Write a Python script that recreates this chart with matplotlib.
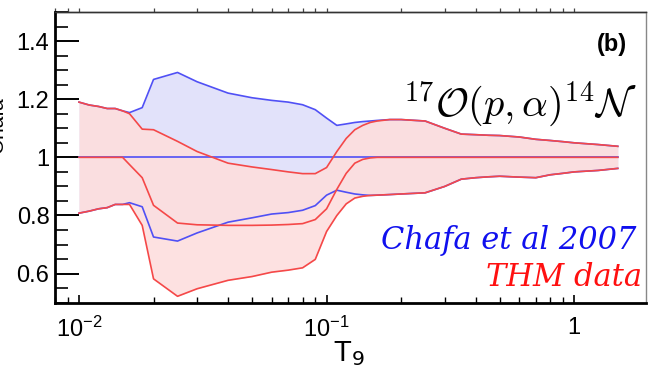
import numpy as np
import matplotlib
matplotlib.use('Agg')
import matplotlib.pyplot as plt
from matplotlib.ticker import FixedLocator, FixedFormatter, MultipleLocator, LogLocator, NullFormatter

plt.rcParams['font.family'] = ['Liberation Sans', 'DejaVu Sans']

# temperature grid (T9)
t9 = [0.01, 0.011, 0.012, 0.013, 0.014, 0.015, 0.016, 0.018, 0.02, 0.025,
      0.03, 0.04, 0.05, 0.06, 0.07, 0.08, 0.09, 0.1, 0.11, 0.12,
      0.13, 0.14, 0.15, 0.16, 0.18, 0.2, 0.25, 0.3, 0.35, 0.4,
      0.45, 0.5, 0.6, 0.7, 0.8, 0.9, 1.0, 1.25, 1.5]

# THM data band (red)
thm_hi = [1.19, 1.18, 1.175, 1.168, 1.168, 1.16, 1.15, 1.097, 1.095, 1.055,
          1.02, 0.98, 0.967, 0.958, 0.95, 0.944, 0.944, 0.965, 1.02, 1.065,
          1.095, 1.11, 1.12, 1.125, 1.13, 1.13, 1.125, 1.10, 1.08, 1.078,
          1.076, 1.075, 1.07, 1.062, 1.058, 1.054, 1.05, 1.044, 1.038]
thm_mid = [1.0, 1.0, 1.0, 1.0, 1.0, 1.0, 0.975, 0.93, 0.835, 0.774,
           0.768, 0.766, 0.766, 0.767, 0.769, 0.772, 0.786, 0.823, 0.89, 0.945,
           0.98, 0.993, 0.998, 1.0, 1.0, 1.0, 1.0, 1.0, 1.0, 1.0,
           1.0, 1.0, 1.0, 1.0, 1.0, 1.0, 1.0, 1.0, 1.0]
thm_lo = [0.808, 0.815, 0.823, 0.827, 0.838, 0.838, 0.838, 0.766, 0.582, 0.522,
          0.548, 0.577, 0.59, 0.605, 0.612, 0.62, 0.649, 0.745, 0.80, 0.84,
          0.86, 0.866, 0.869, 0.87, 0.872, 0.874, 0.878, 0.90, 0.925, 0.93,
          0.933, 0.935, 0.932, 0.93, 0.94, 0.945, 0.95, 0.955, 0.962]

# Chafa et al 2007 band (blue)
chafa_hi = [1.19, 1.18, 1.175, 1.168, 1.168, 1.16, 1.154, 1.171, 1.268, 1.292,
            1.26, 1.221, 1.205, 1.196, 1.19, 1.181, 1.164, 1.135, 1.11, 1.115,
            1.12, 1.123, 1.125, 1.127, 1.13, 1.13, 1.125, 1.10, 1.08, 1.078,
            1.076, 1.075, 1.07, 1.062, 1.058, 1.054, 1.05, 1.044, 1.038]
chafa_mid = [1.0] * len(t9)
chafa_lo = [0.808, 0.815, 0.823, 0.827, 0.838, 0.838, 0.844, 0.83, 0.726, 0.712,
            0.74, 0.777, 0.792, 0.805, 0.81, 0.818, 0.834, 0.87, 0.887, 0.88,
            0.874, 0.871, 0.869, 0.87, 0.872, 0.874, 0.878, 0.90, 0.925, 0.93,
            0.933, 0.935, 0.932, 0.93, 0.94, 0.945, 0.95, 0.955, 0.962]

blue = '#5050f5'
red = '#f54848'

fig = plt.figure(figsize=(6.52, 3.76), dpi=100)
ax = fig.add_axes([55/652, 1 - 302.7/376, (646 - 55)/652, (302.7 - 12)/376])

ax.fill_between(t9, chafa_lo, chafa_hi, color='#e2e2fa', lw=0)
ax.fill_between(t9, thm_lo, thm_hi, color='#fddede', alpha=0.9, lw=0)
for y in (chafa_hi, chafa_mid, chafa_lo):
    ax.plot(t9, y, color=blue, lw=1.2)
for y in (thm_hi, thm_mid, thm_lo):
    ax.plot(t9, y, color=red, lw=1.2)

ax.set_xscale('log')
ax.set_xlim(0.0080, 1.95)
ax.set_ylim(0.5, 1.5)

ax.xaxis.set_major_locator(FixedLocator([0.01, 0.1, 1.0]))
ax.xaxis.set_major_formatter(FixedFormatter([r'$\mathdefault{10^{-2}}$', r'$\mathdefault{10^{-1}}$', '1']))
ax.xaxis.set_minor_locator(LogLocator(base=10, subs=np.arange(2, 10)))
ax.xaxis.set_minor_formatter(NullFormatter())
ax.yaxis.set_major_locator(FixedLocator([0.6, 0.8, 1.0, 1.2, 1.4]))
ax.yaxis.set_major_formatter(FixedFormatter(['0.6', '0.8', '1', '1.2', '1.4']))
ax.yaxis.set_minor_locator(MultipleLocator(0.05))

ax.tick_params(axis='y', which='major', direction='in', length=17, width=1.4, labelsize=17, pad=4)
ax.tick_params(axis='y', which='minor', direction='in', length=9, width=1.2)
ax.tick_params(axis='x', which='major', direction='in', length=6, width=1.2, labelsize=17, pad=10)
ax.tick_params(axis='x', which='minor', direction='in', length=4, width=1.0)

top = ax.secondary_xaxis('top')
top.xaxis.set_major_locator(FixedLocator([0.01, 0.1, 1.0]))
top.xaxis.set_minor_locator(LogLocator(base=10, subs=np.arange(2, 10)))
top.xaxis.set_major_formatter(NullFormatter())
top.xaxis.set_minor_formatter(NullFormatter())
top.tick_params(which='both', direction='out', length=3, width=0.9, colors='#444444')
top.spines['top'].set_linewidth(1.0)
top.spines['top'].set_color('#333333')

ax.spines['left'].set_linewidth(2.0)
ax.spines['bottom'].set_linewidth(2.0)
ax.spines['top'].set_linewidth(1.0)
ax.spines['top'].set_color('#333333')
ax.spines['right'].set_linewidth(1.0)
ax.spines['right'].set_color('#888888')

fig.text(349/652, 1 - 354/376, r'T$_9$', fontsize=21, ha='center', va='center')
fig.text(-0.004, 1 - 125/376, 'Chafa', fontsize=15, rotation=90, ha='center', va='center')

ax.text(612/652, 1 - 44/376, '(b)', transform=fig.transFigure, fontsize=17,
        fontweight='bold', ha='center', va='center')
ax.text(637/652, 1 - 104/376, r'$^{17}\mathcal{O}(p,\alpha)^{14}\mathcal{N}$',
        transform=fig.transFigure, fontsize=29, ha='right', va='center',
        math_fontfamily='cm')
ax.text(636/652, 1 - 241/376, 'Chafa et al 2007', transform=fig.transFigure,
        fontsize=22, color='#1010ee', style='italic', family='DejaVu Serif',
        ha='right', va='center')
ax.text(642/652, 1 - 277/376, 'THM data', transform=fig.transFigure,
        fontsize=22, color='#ff1010', style='italic', family='DejaVu Serif',
        ha='right', va='center')

fig.savefig('out.png', dpi=100)
